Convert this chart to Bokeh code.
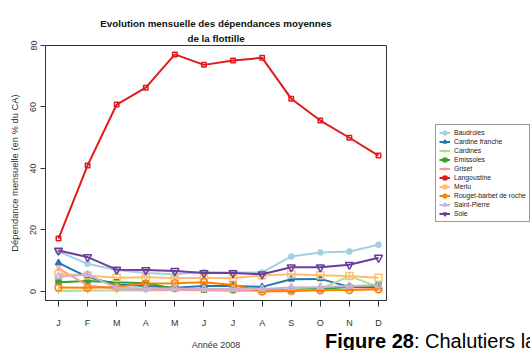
from bokeh.plotting import figure
from bokeh.layouts import column
from bokeh.models import (Range1d, FixedTicker, Legend, LegendItem, Title,
                          ColumnDataSource, Div)
from bokeh.embed import file_html
from bokeh.resources import INLINE

# ---- data ----
month_index = [1, 2, 3, 4, 5, 6, 7, 8, 9, 10, 11, 12]
month_labels = ["J", "F", "M", "A", "M", "J", "J", "A", "S", "O", "N", "D"]

baudroies = [13.0, 9.0, 7.0, 6.0, 5.6, 6.3, 6.2, 6.2, 11.4, 12.7, 13.0, 15.2]
cardine_franche = [9.3, 4.7, 2.3, 1.8, 1.2, 1.8, 1.8, 1.5, 4.0, 4.1, 1.5, 1.5]
cardines = [0.2, 0.3, 0.3, 0.3, 0.5, 0.5, 0.2, 0.3, 0.5, 0.8, 5.0, 1.5]
emissoles = [3.0, 3.4, 3.0, 2.7, 0.9, 0.6, 0.5, 0.5, 0.6, 0.8, 1.5, 2.0]
griset = [7.5, 2.0, 0.8, 0.6, 0.5, 0.4, 0.4, 0.3, 0.4, 0.5, 0.6, 0.8]
langoustine = [17.2, 41.0, 60.8, 66.3, 77.1, 73.7, 75.1, 76.0, 62.7, 55.6, 50.0, 44.2]
merlu = [5.7, 5.2, 4.5, 4.6, 4.4, 4.4, 4.4, 5.2, 5.6, 5.3, 5.0, 4.5]
rouget = [1.3, 1.2, 1.5, 2.6, 2.7, 3.0, 2.1, 0.0, 0.2, 0.4, 0.5, 0.7]
saint_pierre = [4.8, 5.5, 1.2, 1.0, 1.0, 0.8, 0.8, 0.8, 1.3, 1.5, 1.8, 2.0]
sole = [13.3, 11.2, 7.1, 7.0, 6.7, 6.0, 6.0, 5.6, 7.9, 7.9, 8.7, 11.0]

species = ["Baudroies", "Cardine franche", "Cardines", "Emissoles", "Griset",
           "Langoustine", "Merlu", "Rouget-barbet de roche", "Saint-Pierre", "Sole"]
series = [baudroies, cardine_franche, cardines, emissoles, griset,
          langoustine, merlu, rouget, saint_pierre, sole]
colors = ["#A6CEE3", "#1F78B4", "#B2DF8A", "#33A02C", "#FB9A99",
          "#E31A1C", "#FDBF6F", "#FF7F00", "#CAB2D6", "#6A3D9A"]
markers = ["circle", "triangle", "cross", "square", "x",
           "square", "square", "circle", "triangle", "inverted_triangle"]
filled = [True, True, False, True, False, False, False, False, False, False]
sizes = [5, 6, 6, 5, 6, 4.5, 7, 7, 7, 8]

title_lines = ["Evolution mensuelle des dépendances moyennes", "de la flottille"]
x_title = "Année 2008"
y_title = "Dépendance mensuelle (en % du CA)"
y_ticks = [0, 20, 40, 60, 80]
caption_bold = "Figure 28"
caption_rest = ": Chalutiers la"

NARROW = "'Liberation Sans Narrow', 'Liberation Sans', Arial, sans-serif"
REG = "'Liberation Sans', Arial, sans-serif"
AX = "#333333"

p = figure(frame_width=341, frame_height=255, output_backend="svg",
           toolbar_location=None,
           x_range=Range1d(0.553, 12.275), y_range=Range1d(-2.93, 80),
           min_border_left=45, min_border_right=144, min_border_top=45,
           min_border_bottom=50)
p.grid.visible = False
p.outline_line_color = AX
p.outline_line_width = 1
p.background_fill_color = "white"
p.border_fill_color = "white"
p.border_fill_alpha = 0.0

# axes
p.yaxis.ticker = FixedTicker(ticks=y_ticks)
p.yaxis.major_label_orientation = "vertical"
p.yaxis.major_label_text_font = REG
p.yaxis.major_label_text_font_size = "9px"
p.yaxis.major_label_text_color = AX
p.yaxis.major_label_standoff = 4
p.yaxis.major_tick_out = 5
p.yaxis.major_tick_in = 0
p.yaxis.minor_tick_out = 0
p.yaxis.minor_tick_in = 0
p.yaxis.axis_line_color = AX
p.yaxis.major_tick_line_color = AX
p.yaxis.axis_label = y_title
p.yaxis.axis_label_text_font = REG
p.yaxis.axis_label_text_font_size = "9.4px"
p.yaxis.axis_label_text_font_style = "normal"
p.yaxis.axis_label_text_color = AX
p.yaxis.axis_label_standoff = 8

p.xaxis.ticker = FixedTicker(ticks=month_index)
p.xaxis.major_label_overrides = {i: l for i, l in zip(month_index, month_labels)}
p.xaxis.major_label_text_font = NARROW
p.xaxis.major_label_text_font_size = "9px"
p.xaxis.major_label_text_color = AX
p.xaxis.major_label_standoff = 11
p.xaxis.major_tick_out = 6
p.xaxis.major_tick_in = 0
p.xaxis.minor_tick_out = 0
p.xaxis.minor_tick_in = 0
p.xaxis.axis_line_color = AX
p.xaxis.major_tick_line_color = AX
p.xaxis.axis_label = x_title
p.xaxis.axis_label_text_font = NARROW
p.xaxis.axis_label_text_font_size = "9px"
p.xaxis.axis_label_text_font_style = "normal"
p.xaxis.axis_label_text_color = AX
p.xaxis.axis_label_standoff = 9

# series
items = []
for name, vals, col, mk, fl, sz in zip(species, series, colors, markers, filled, sizes):
    src = ColumnDataSource(dict(x=month_index, y=vals))
    r1 = p.line("x", "y", source=src, line_color=col, line_width=2)
    r2 = p.scatter("x", "y", source=src, marker=mk, size=sz, line_color=col,
                   line_width=1.5,
                   fill_color=col if fl else "white", fill_alpha=1.0 if fl else 0.0)
    items.append(LegendItem(label=name, renderers=[r1, r2]))

legend = Legend(items=items, location=(49, 78), margin=0, padding=3,
                spacing=0, label_standoff=4, glyph_width=11, glyph_height=9,
                label_height=9, label_text_font=NARROW,
                label_text_font_size="6.8px", label_text_color="#222222",
                border_line_color=AX, border_line_width=1,
                background_fill_color="white", background_fill_alpha=1.0)
p.add_layout(legend, "right")

# title (two lines): inner line first, outer line last
p.title = None
p.add_layout(Title(text=title_lines[1], align="center", text_font=NARROW,
                   text_font_style="bold", text_font_size="9.8px",
                   text_color="#111111", standoff=4), "above")
p.add_layout(Title(text=title_lines[0], align="center", text_font=NARROW,
                   text_font_style="bold", text_font_size="9.8px",
                   text_color="#111111", standoff=0), "above")

# document caption fragment (overlaps the bottom-right corner of the page)
cap = Div(text=f"<b>{caption_bold}</b>{caption_rest}", width=205, height=22,
          margin=(-22, 0, 0, 325),
          styles={"font-family": REG, "font-size": "20px", "line-height": "22px",
                  "white-space": "nowrap", "overflow": "hidden", "color": "#000000",
                  "position": "relative", "z-index": "10"})

layout = column(p, cap, spacing=0)
open("out.html", "w").write(file_html(layout, INLINE))
